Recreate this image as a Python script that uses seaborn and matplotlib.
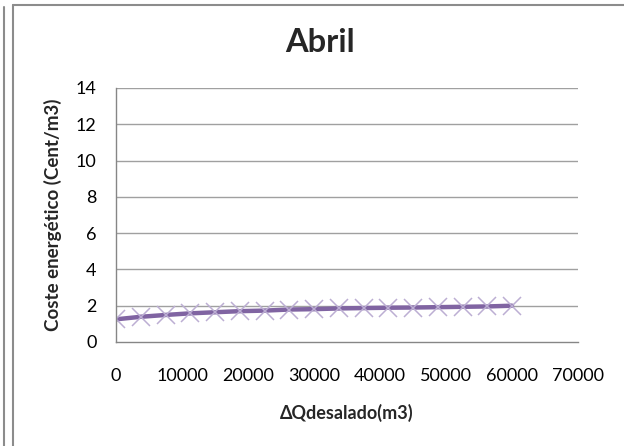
import matplotlib
matplotlib.use("Agg")
import matplotlib.pyplot as plt
import seaborn as sns
import pandas as pd
from matplotlib.lines import Line2D

# Data
caudal = [0, 3750, 7500, 11250, 15000, 18750, 22500, 26250, 30000, 33750,
          37500, 41250, 45000, 48750, 52500, 56250, 60000]
coste = [1.25, 1.39, 1.49, 1.58, 1.64, 1.70, 1.73, 1.79, 1.81, 1.85,
         1.87, 1.89, 1.90, 1.92, 1.94, 1.96, 2.00]
x_ticks = [0, 10000, 20000, 30000, 40000, 50000, 60000, 70000]
y_ticks = [0, 2, 4, 6, 8, 10, 12, 14]
title = "Abril"
xlabel = "ΔQdesalado(m3)"
ylabel = "Coste energético (Cent/m3)"

sns.set_theme(style="white")
plt.rcParams['font.family'] = ['Lato', 'DejaVu Sans']

df = pd.DataFrame({"x": caudal, "y": coste})

fig = plt.figure(figsize=(6.24, 4.46), dpi=100)
ax = fig.add_axes([116/624, 1-342/446, (578-116)/624, (342-88)/446])

sns.lineplot(data=df, x="x", y="y", ax=ax, color="#8064a2", linewidth=3.2,
             marker="x", markersize=13, markeredgecolor="#bcaed3",
             markeredgewidth=1.1)

ax.set_xlim(0, 70000)
ax.set_ylim(0, 14)
ax.set_xticks(x_ticks)
ax.set_yticks(y_ticks)
ax.set_xticklabels([str(v) for v in x_ticks])
ax.set_yticklabels([str(v) for v in y_ticks])
ax.tick_params(axis='both', labelsize=13, colors='#000000', length=6,
               width=1, color='#868686', direction='out')
ax.tick_params(axis='y', pad=8)
ax.tick_params(axis='x', pad=13)
for yv in y_ticks[1:]:
    ax.axhline(yv, color='#a0a0a0', linewidth=1, zorder=0)

for side in ['top', 'right']:
    ax.spines[side].set_visible(False)
for side in ['left', 'bottom']:
    ax.spines[side].set_color('#868686')
    ax.spines[side].set_linewidth(1)

ax.set_xlabel(xlabel, fontsize=13, fontweight='bold', labelpad=14)
ax.set_ylabel(ylabel, fontsize=13.5, fontweight='bold', labelpad=10)
fig.text(320/624, 1-42/446, title, fontsize=23.5, fontweight='bold',
         ha='center', va='center')

# Outer frame lines
fig.add_artist(Line2D([3.5/624, 3.5/624], [0, 1-7/446], transform=fig.transFigure,
                      color='#8c8c8c', linewidth=1.5))
fig.add_artist(Line2D([12.5/624, 12.5/624], [0, 1-5/446], transform=fig.transFigure,
                      color='#8c8c8c', linewidth=1.5))
fig.add_artist(Line2D([12.5/624, 1], [1-5/446, 1-5/446], transform=fig.transFigure,
                      color='#8c8c8c', linewidth=1.5))

fig.savefig("out.png", dpi=100)
